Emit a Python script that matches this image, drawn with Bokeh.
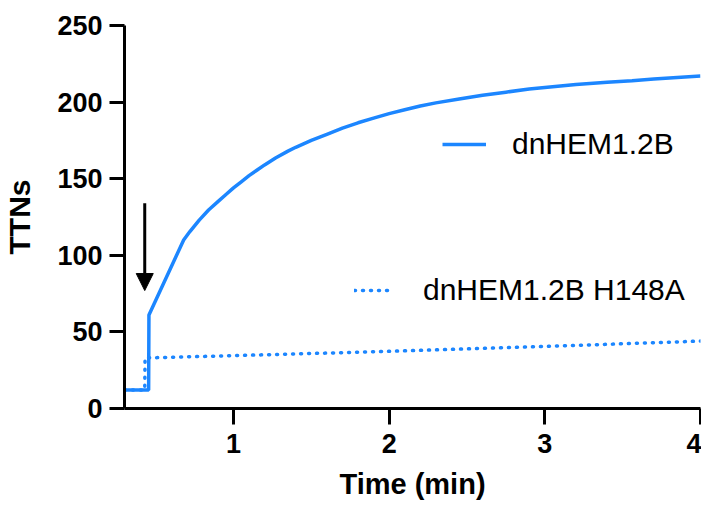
from bokeh.plotting import figure
from bokeh.models import Range1d, FixedTicker, Legend, LegendItem, Arrow, NormalHead
from bokeh.embed import file_html
from bokeh.resources import INLINE

# ---- data ----
time_wt = [0.30, 0.455, 0.457, 0.68, 0.72, 0.78, 0.84, 0.90, 0.95, 1.00, 1.05, 1.10,
           1.15, 1.20, 1.27, 1.35, 1.40, 1.50, 1.60, 1.70, 1.80, 1.90, 2.00, 2.10,
           2.20, 2.30, 2.45, 2.60, 2.75, 2.90, 3.05, 3.20, 3.40, 3.56, 3.70, 3.85, 4.00]
ttn_wt = [12, 12, 61, 110, 115.5, 123, 129.6, 135, 139.5, 144, 148, 152,
          155.5, 159, 163.5, 168, 170.5, 175, 179, 183, 186.5, 189.5, 192.5, 195,
          197.5, 199.5, 202, 204.5, 206.5, 208.5, 210, 211.5, 213, 214, 215, 216, 217]

time_mut = [0.30, 0.43, 0.432, 1.0, 2.0, 3.0, 4.0]
ttn_mut = [12, 12, 33, 34.5, 37.3, 40.5, 44]

series_names = ["dnHEM1.2B", "dnHEM1.2B H148A"]
x_ticks = [1, 2, 3, 4]
y_ticks = [0, 50, 100, 150, 200, 250]
arrow_x = [0.43, 0.43]
arrow_y = [134, 77]

BLUE = "#1C86FF"
FONT = "Liberation Sans"

p = figure(width=701, height=502, output_backend="svg", toolbar_location=None,
           x_range=Range1d(0.3, 4.0), y_range=Range1d(0, 250),
           min_border_left=123, min_border_right=1, min_border_top=25,
           min_border_bottom=93)
p.outline_line_color = None
p.grid.visible = False
p.background_fill_color = "white"

r1 = p.line(time_wt, ttn_wt, line_color=BLUE, line_width=3.5)
r2 = p.line(time_mut, ttn_mut, line_color=BLUE, line_width=3.5,
            line_dash="1 7", line_cap="round")

p.add_layout(Arrow(end=NormalHead(size=17, fill_color="black", line_color="black", line_width=1),
                   x_start=arrow_x[0], y_start=arrow_y[0], x_end=arrow_x[1], y_end=arrow_y[1],
                   line_width=3, line_color="black"))

for ax in (p.xaxis[0], p.yaxis[0]):
    ax.axis_line_width = 3
    ax.major_tick_line_width = 3
    ax.minor_tick_line_color = None
    ax.major_tick_in = 0
    ax.major_label_text_font = FONT
    ax.major_label_text_font_style = "bold"
    ax.major_label_text_font_size = "27px"
    ax.major_label_text_color = "black"
    ax.axis_label_text_font = FONT
    ax.axis_label_text_font_style = "bold"
    ax.axis_label_text_color = "black"

p.xaxis.ticker = FixedTicker(ticks=x_ticks)
p.yaxis.ticker = FixedTicker(ticks=y_ticks)
p.xaxis.major_tick_out = 16
p.yaxis.major_tick_out = 15
p.xaxis.major_label_standoff = 9
p.yaxis.major_label_standoff = 7
p.xaxis.axis_label = "Time (min)"
p.yaxis.axis_label = "TTNs"
p.xaxis.axis_label_text_font_size = "29px"
p.yaxis.axis_label_text_font_size = "30px"
p.xaxis.axis_label_standoff = 12
p.yaxis.axis_label_standoff = 18

leg1 = Legend(items=[LegendItem(label=series_names[0], renderers=[r1])],
              location=(318, 247), glyph_width=44, label_standoff=26,
              padding=0, margin=0, border_line_color=None, background_fill_alpha=0,
              label_text_font=FONT, label_text_font_size="30px", label_text_color="black")
leg2 = Legend(items=[LegendItem(label=series_names[1], renderers=[r2])],
              location=(230, 101), glyph_width=37, label_standoff=32,
              padding=0, margin=0, border_line_color=None, background_fill_alpha=0,
              label_text_font=FONT, label_text_font_size="30px", label_text_color="black")
p.add_layout(leg1, "center")
p.add_layout(leg2, "center")

open("out.html", "w").write(file_html(p, INLINE))
